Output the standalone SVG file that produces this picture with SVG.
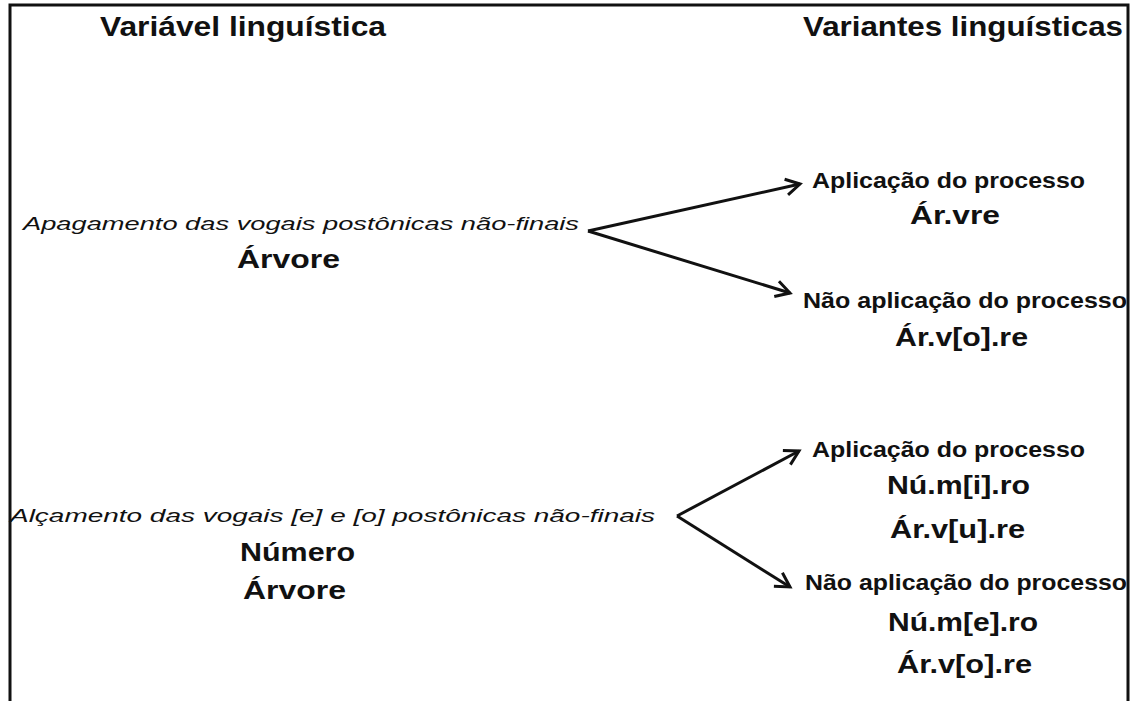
<svg xmlns="http://www.w3.org/2000/svg" width="1137" height="701" viewBox="0 0 1137 701">
  <style>
    text { font-family: "Liberation Sans", Arial, sans-serif; fill: #111; }
    .hdr { font-size: 27px; font-weight: bold; }
    .var { font-size: 18.5px; font-style: italic; }
    .word { font-size: 26px; font-weight: bold; }
    .proc { font-size: 21.5px; font-weight: bold; }
    .form { font-size: 26px; font-weight: bold; }
    .conn { stroke: #111; stroke-width: 3; fill: none; }
  </style>
  <defs>
    <marker id="arrow" markerUnits="userSpaceOnUse" markerWidth="20" markerHeight="20" viewBox="0 0 20 20" refX="17" refY="10" orient="auto">
      <path d="M3,2 L17,10 L3,18" fill="none" stroke="#111" stroke-width="3" stroke-linejoin="miter"/>
    </marker>
  </defs>
  <rect x="0" y="0" width="1137" height="701" fill="#fff"/>
  <path id="frame" d="M10,706 L10,5 L1128,5 L1128,706" fill="none" stroke="#111" stroke-width="3"/>

  <g id="headers">
    <text class="hdr" x="100" y="36" textLength="286" lengthAdjust="spacingAndGlyphs">Variável linguística</text>
    <text class="hdr" x="803" y="36" textLength="320" lengthAdjust="spacingAndGlyphs">Variantes linguísticas</text>
  </g>

  <g id="node-apagamento">
    <text class="var" x="23" y="230" textLength="556" lengthAdjust="spacingAndGlyphs">Apagamento das vogais postônicas não-finais</text>
    <text class="word" x="237" y="268" textLength="103" lengthAdjust="spacingAndGlyphs">Árvore</text>
  </g>

  <g id="node-apag-aplicacao">
    <text class="proc" x="812" y="188" textLength="273" lengthAdjust="spacingAndGlyphs">Aplicação do processo</text>
    <text class="form" x="910" y="224" textLength="90" lengthAdjust="spacingAndGlyphs">Ár.vre</text>
  </g>

  <g id="node-apag-nao-aplicacao">
    <text class="proc" x="803" y="308" textLength="324" lengthAdjust="spacingAndGlyphs">Não aplicação do processo</text>
    <text class="form" x="895" y="346" textLength="133" lengthAdjust="spacingAndGlyphs">Ár.v[o].re</text>
  </g>

  <g id="node-alcamento">
    <text class="var" x="10" y="522" textLength="645" lengthAdjust="spacingAndGlyphs">Alçamento das vogais [e] e [o] postônicas não-finais</text>
    <text class="word" x="240" y="561" textLength="115" lengthAdjust="spacingAndGlyphs">Número</text>
    <text class="word" x="243" y="599" textLength="103" lengthAdjust="spacingAndGlyphs">Árvore</text>
  </g>

  <g id="node-alc-aplicacao">
    <text class="proc" x="812" y="457" textLength="273" lengthAdjust="spacingAndGlyphs">Aplicação do processo</text>
    <text class="form" x="887" y="494" textLength="143" lengthAdjust="spacingAndGlyphs">Nú.m[i].ro</text>
    <text class="form" x="890" y="538" textLength="135" lengthAdjust="spacingAndGlyphs">Ár.v[u].re</text>
  </g>

  <g id="node-alc-nao-aplicacao">
    <text class="proc" x="805" y="590" textLength="322" lengthAdjust="spacingAndGlyphs">Não aplicação do processo</text>
    <text class="form" x="888" y="631" textLength="150" lengthAdjust="spacingAndGlyphs">Nú.m[e].ro</text>
    <text class="form" x="897" y="673" textLength="135" lengthAdjust="spacingAndGlyphs">Ár.v[o].re</text>
  </g>

  <g id="connectors">
    <line class="conn" x1="588" y1="231" x2="800" y2="184" marker-end="url(#arrow)"/>
    <line class="conn" x1="588" y1="231" x2="790" y2="293" marker-end="url(#arrow)"/>
    <line class="conn" x1="677" y1="516" x2="799" y2="451" marker-end="url(#arrow)"/>
    <line class="conn" x1="677" y1="516" x2="790" y2="587" marker-end="url(#arrow)"/>
  </g>
</svg>
